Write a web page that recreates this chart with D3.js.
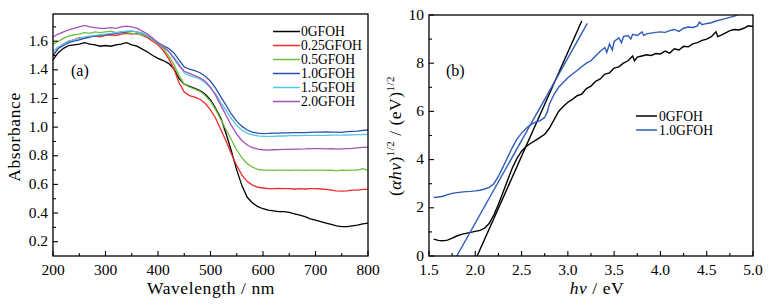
<!DOCTYPE html>
<html>
<head>
<meta charset="utf-8">
<script src="https://cdn.jsdelivr.net/npm/d3@7"></script>
<style>
  body { margin: 0; background: #fff; }
  svg { display: block; font-family: "Liberation Serif", "DejaVu Serif", serif; }
</style>
</head>
<body>
<div id="chart"></div>
<script>
// ---- panel (a): absorbance spectra ----
const wavelength = d3.range(200, 801, 10);

const abs0 = [1.47, 1.52, 1.55, 1.57, 1.575, 1.58, 1.59, 1.58, 1.575, 1.565, 1.57, 1.565, 1.575, 1.58, 1.59, 1.575, 1.565, 1.545, 1.525, 1.50,
  1.48, 1.465, 1.445, 1.41, 1.34, 1.30, 1.285, 1.27, 1.255, 1.23, 1.19, 1.13, 1.06, 0.95, 0.83, 0.70, 0.59, 0.51, 0.47, 0.445,
  0.43, 0.42, 0.415, 0.41, 0.41, 0.405, 0.395, 0.385, 0.375, 0.36, 0.35, 0.34, 0.33, 0.32, 0.31, 0.305, 0.305, 0.31, 0.315, 0.325, 0.33];
const abs025 = [1.50, 1.55, 1.58, 1.60, 1.61, 1.625, 1.62, 1.63, 1.635, 1.63, 1.64, 1.645, 1.64, 1.65, 1.655, 1.65, 1.655, 1.64, 1.625, 1.60,
  1.575, 1.535, 1.48, 1.41, 1.31, 1.245, 1.22, 1.21, 1.195, 1.165, 1.12, 1.06, 0.98, 0.90, 0.81, 0.73, 0.665, 0.62, 0.595, 0.58,
  0.575, 0.57, 0.57, 0.572, 0.57, 0.57, 0.568, 0.57, 0.568, 0.57, 0.57, 0.568, 0.565, 0.56, 0.555, 0.553, 0.555, 0.56, 0.56, 0.565, 0.565];
const abs05 = [1.58, 1.60, 1.62, 1.635, 1.645, 1.65, 1.66, 1.655, 1.665, 1.66, 1.665, 1.67, 1.66, 1.665, 1.66, 1.655, 1.65, 1.645, 1.635, 1.61,
  1.585, 1.55, 1.50, 1.44, 1.36, 1.30, 1.28, 1.265, 1.25, 1.22, 1.18, 1.12, 1.05, 0.98, 0.91, 0.84, 0.785, 0.745, 0.72, 0.705,
  0.70, 0.70, 0.698, 0.70, 0.70, 0.698, 0.70, 0.70, 0.698, 0.70, 0.70, 0.70, 0.698, 0.70, 0.695, 0.70, 0.698, 0.70, 0.70, 0.71, 0.70];
const abs10 = [1.50, 1.55, 1.57, 1.59, 1.60, 1.61, 1.62, 1.63, 1.635, 1.64, 1.645, 1.65, 1.655, 1.66, 1.665, 1.67, 1.665, 1.655, 1.64, 1.615,
  1.59, 1.57, 1.55, 1.52, 1.47, 1.42, 1.405, 1.395, 1.38, 1.355, 1.32, 1.27, 1.21, 1.15, 1.09, 1.04, 1.005, 0.98, 0.965, 0.958,
  0.955, 0.956, 0.958, 0.958, 0.96, 0.96, 0.962, 0.962, 0.962, 0.964, 0.965, 0.965, 0.966, 0.965, 0.965, 0.963, 0.968, 0.97, 0.972, 0.978, 0.98];
const abs15 = [1.53, 1.56, 1.58, 1.60, 1.61, 1.62, 1.63, 1.635, 1.64, 1.645, 1.65, 1.655, 1.66, 1.665, 1.67, 1.67, 1.665, 1.655, 1.64, 1.615,
  1.59, 1.565, 1.53, 1.49, 1.44, 1.38, 1.36, 1.35, 1.335, 1.31, 1.275, 1.23, 1.17, 1.115, 1.06, 1.01, 0.978, 0.958, 0.946, 0.939,
  0.935, 0.935, 0.936, 0.938, 0.938, 0.94, 0.94, 0.94, 0.942, 0.942, 0.942, 0.943, 0.943, 0.944, 0.944, 0.944, 0.945, 0.946, 0.947, 0.948, 0.95];
const abs20 = [1.63, 1.65, 1.665, 1.68, 1.69, 1.70, 1.71, 1.70, 1.695, 1.69, 1.69, 1.695, 1.69, 1.70, 1.705, 1.70, 1.69, 1.67, 1.65, 1.62,
  1.59, 1.56, 1.53, 1.48, 1.43, 1.39, 1.375, 1.36, 1.345, 1.32, 1.28, 1.22, 1.15, 1.08, 1.01, 0.95, 0.905, 0.875, 0.857, 0.847,
  0.842, 0.84, 0.842, 0.843, 0.845, 0.845, 0.846, 0.847, 0.848, 0.85, 0.85, 0.85, 0.848, 0.85, 0.846, 0.848, 0.85, 0.852, 0.855, 0.858, 0.86];

const seriesA = [
  { name: "0GFOH", values: abs0, color: "#000000" },
  { name: "0.25GFOH", values: abs025, color: "#f22a2a" },
  { name: "0.5GFOH", values: abs05, color: "#6cc040" },
  { name: "1.0GFOH", values: abs10, color: "#2a4fb0" },
  { name: "1.5GFOH", values: abs15, color: "#55c6e6" },
  { name: "2.0GFOH", values: abs20, color: "#a352b4" }
];

// ---- panel (b): Tauc plot ----
const energy0 = [1.55, 1.60, 1.65, 1.70, 1.75, 1.80, 1.85, 1.90, 1.95, 2.00, 2.05, 2.10, 2.15, 2.20, 2.25, 2.30, 2.35, 2.40, 2.45, 2.50,
  2.55, 2.60, 2.65, 2.70, 2.75, 2.80, 2.85, 2.90, 2.95, 3.00, 3.05, 3.10, 3.15, 3.20, 3.25, 3.30, 3.35, 3.40, 3.45, 3.50,
  3.55, 3.60, 3.65, 3.70, 3.72, 3.75, 3.80, 3.85, 3.90, 3.95, 4.00, 4.05, 4.10, 4.15, 4.20, 4.25, 4.30, 4.35, 4.40, 4.45,
  4.50, 4.55, 4.60, 4.62, 4.65, 4.70, 4.75, 4.80, 4.85, 4.90, 4.95, 5.00];
const tauc0 = [0.70, 0.65, 0.63, 0.66, 0.74, 0.83, 0.90, 0.94, 0.98, 1.02, 1.06, 1.15, 1.35, 1.70, 2.15, 2.65, 3.15, 3.65, 4.05, 4.35,
  4.55, 4.68, 4.80, 4.92, 5.05, 5.30, 5.65, 6.00, 6.20, 6.38, 6.50, 6.65, 6.72, 6.95, 7.05, 7.25, 7.35, 7.55, 7.60, 7.80,
  7.85, 8.00, 8.10, 8.30, 8.10, 8.25, 8.30, 8.35, 8.32, 8.40, 8.38, 8.50, 8.42, 8.60, 8.55, 8.70, 8.68, 8.80, 8.85, 8.95,
  9.00, 9.10, 9.30, 9.10, 9.15, 9.25, 9.35, 9.40, 9.38, 9.45, 9.55, 9.52];

const energy10 = [1.55, 1.60, 1.65, 1.70, 1.75, 1.80, 1.85, 1.90, 1.95, 2.00, 2.05, 2.10, 2.15, 2.20, 2.25, 2.30, 2.35, 2.40, 2.45, 2.50,
  2.55, 2.60, 2.65, 2.70, 2.75, 2.78, 2.80, 2.85, 2.90, 2.95, 3.00, 3.05, 3.10, 3.15, 3.20, 3.25, 3.30, 3.35, 3.40, 3.42,
  3.45, 3.48, 3.50, 3.55, 3.58, 3.60, 3.65, 3.68, 3.70, 3.75, 3.80, 3.82, 3.85, 3.90, 3.95, 4.00, 4.05, 4.10, 4.15, 4.20,
  4.25, 4.30, 4.35, 4.40, 4.42, 4.45, 4.50, 4.55, 4.60, 4.65, 4.70, 4.75, 4.80, 4.83];
const tauc10 = [2.43, 2.45, 2.48, 2.55, 2.60, 2.63, 2.65, 2.67, 2.68, 2.70, 2.73, 2.78, 2.85, 3.00, 3.30, 3.70, 4.10, 4.50, 4.85, 5.10,
  5.30, 5.45, 5.55, 5.62, 5.75, 6.00, 6.30, 6.70, 7.00, 7.20, 7.40, 7.55, 7.70, 7.85, 8.00, 8.10, 8.30, 8.50, 8.65, 8.45,
  8.80, 8.55, 8.90, 9.05, 8.85, 9.10, 9.15, 9.00, 9.20, 9.15, 9.30, 9.15, 9.22, 9.25, 9.28, 9.30, 9.28, 9.35, 9.40, 9.32,
  9.45, 9.50, 9.48, 9.55, 9.70, 9.60, 9.65, 9.68, 9.75, 9.80, 9.85, 9.90, 9.95, 10.0];

// tangent (fit) lines, two end points each
const fit0 = [[2.02, 0], [3.15, 9.75]];
const fit10 = [[1.80, 0], [3.21, 9.65]];

const seriesB = [
  { name: "0GFOH", x: energy0, values: tauc0, color: "#000000", fit: fit0 },
  { name: "1.0GFOH", x: energy10, values: tauc10, color: "#2f5cb8", fit: fit10 }
];

const width = 778, height = 306;
const svg = d3.select("#chart").append("svg")
  .attr("width", width)
  .attr("height", height);

// draws box frame, inward ticks (major + minor) and labels
function drawFrame(g, x, y, xMajor, xMinor, yMajor, yMinor, xFmt, yFmt) {
  const [x0, x1] = x.range();
  const [y0, y1] = y.range();
  g.append("rect")
    .attr("x", x0).attr("y", y1)
    .attr("width", x1 - x0).attr("height", y0 - y1)
    .attr("fill", "none").attr("stroke", "#000").attr("stroke-width", 1.3);

  g.selectAll(".xminor").data(xMinor).join("line")
    .attr("x1", d => x(d)).attr("x2", d => x(d))
    .attr("y1", y0).attr("y2", y0 - 3)
    .attr("stroke", "#000").attr("stroke-width", 1.1);
  g.selectAll(".xmajor").data(xMajor).join("line")
    .attr("x1", d => x(d)).attr("x2", d => x(d))
    .attr("y1", y0).attr("y2", y0 - 5)
    .attr("stroke", "#000").attr("stroke-width", 1.1);
  g.selectAll(".yminor").data(yMinor).join("line")
    .attr("x1", x0).attr("x2", x0 + 3)
    .attr("y1", d => y(d)).attr("y2", d => y(d))
    .attr("stroke", "#000").attr("stroke-width", 1.1);
  g.selectAll(".ymajor").data(yMajor).join("line")
    .attr("x1", x0).attr("x2", x0 + 5)
    .attr("y1", d => y(d)).attr("y2", d => y(d))
    .attr("stroke", "#000").attr("stroke-width", 1.1);

  g.selectAll(".xlab").data(xMajor).join("text")
    .attr("x", d => x(d)).attr("y", y0 + 19)
    .attr("text-anchor", "middle")
    .style("font-size", "15.5px")
    .text(xFmt);
  g.selectAll(".ylab").data(yMajor).join("text")
    .attr("x", x0 - 5).attr("y", d => y(d) + 4.5)
    .attr("text-anchor", "end")
    .style("font-size", "15.5px")
    .text(yFmt);
}

// ---- draw panel (a) ----
const xA = d3.scaleLinear().domain([200, 800]).range([53, 368]);
const yA = d3.scaleLinear().domain([0.1, 1.79]).range([256, 14]);
const gA = svg.append("g");

gA.append("clipPath").attr("id", "clipA").append("rect")
  .attr("x", 53).attr("y", 14).attr("width", 315).attr("height", 242);

const lineA = d3.line()
  .x((d, i) => xA(wavelength[i]))
  .y(d => yA(d));

gA.append("g").attr("clip-path", "url(#clipA)")
  .selectAll("path").data(seriesA).join("path")
  .attr("d", d => lineA(d.values))
  .attr("fill", "none")
  .attr("stroke", d => d.color)
  .attr("stroke-width", 1.3);

drawFrame(gA, xA, yA,
  d3.range(200, 801, 100), d3.range(250, 800, 100),
  d3.range(0.2, 1.61, 0.2), d3.range(0.3, 1.71, 0.2),
  d => d, d => d3.format(".1f")(d));

// legend (a)
const legA = gA.append("g");
seriesA.forEach((s, i) => {
  const ly = 31.5 + i * 14;
  legA.append("line")
    .attr("x1", 273).attr("x2", 300).attr("y1", ly).attr("y2", ly)
    .attr("stroke", s.color).attr("stroke-width", 1.5);
  legA.append("text")
    .attr("x", 301).attr("y", ly + 4.8)
    .style("font-size", "13.6px")
    .text(s.name);
});

gA.append("text").attr("x", 71).attr("y", 76).style("font-size", "16px").text("(a)");
gA.append("text")
  .attr("transform", "translate(20,137) rotate(-90)")
  .attr("text-anchor", "middle")
  .style("font-size", "17.5px")
  .style("letter-spacing", "0.6px")
  .text("Absorbance");
gA.append("text")
  .attr("x", 211).attr("y", 294)
  .attr("text-anchor", "middle")
  .style("font-size", "17.5px")
  .style("letter-spacing", "0.6px")
  .text("Wavelength / nm");

// ---- draw panel (b) ----
const xB = d3.scaleLinear().domain([1.5, 5.0]).range([429, 753]);
const yB = d3.scaleLinear().domain([0, 10]).range([256, 15]);
const gB = svg.append("g");

gB.append("clipPath").attr("id", "clipB").append("rect")
  .attr("x", 429).attr("y", 15).attr("width", 324).attr("height", 241);

const plotB = gB.append("g").attr("clip-path", "url(#clipB)");
seriesB.forEach(s => {
  const line = d3.line().x((d, i) => xB(s.x[i])).y(d => yB(d));
  plotB.append("path")
    .attr("d", line(s.values))
    .attr("fill", "none")
    .attr("stroke", s.color)
    .attr("stroke-width", 1.4);
  plotB.append("line")
    .attr("x1", xB(s.fit[0][0])).attr("y1", yB(s.fit[0][1]))
    .attr("x2", xB(s.fit[1][0])).attr("y2", yB(s.fit[1][1]))
    .attr("stroke", s.color)
    .attr("stroke-width", 1.4);
});

drawFrame(gB, xB, yB,
  d3.range(1.5, 5.01, 0.5), d3.range(1.75, 5.0, 0.5),
  d3.range(0, 10.1, 2), d3.range(1, 10, 2),
  d => d3.format(".1f")(d), d => d);

const legB = gB.append("g");
seriesB.forEach((s, i) => {
  const ly = 116 + i * 14;
  legB.append("line")
    .attr("x1", 636).attr("x2", 657).attr("y1", ly).attr("y2", ly)
    .attr("stroke", s.color).attr("stroke-width", 1.5);
  legB.append("text")
    .attr("x", 659).attr("y", ly + 4.8)
    .style("font-size", "13.6px")
    .text(s.name);
});

gB.append("text").attr("x", 446).attr("y", 76).style("font-size", "16px").text("(b)");

const yLabB = gB.append("text")
  .attr("transform", "translate(401,136) rotate(-90)")
  .attr("text-anchor", "middle")
  .style("font-size", "17.5px")
  .style("letter-spacing", "0.5px");
yLabB.append("tspan").text("(");
yLabB.append("tspan").style("font-style", "italic").text("αhν");
yLabB.append("tspan").text(")");
yLabB.append("tspan").attr("dy", -7).style("font-size", "11px").text("1/2");
yLabB.append("tspan").attr("dy", 7).text(" / (eV)");
yLabB.append("tspan").attr("dy", -7).style("font-size", "11px").text("1/2");

const xLabB = gB.append("text")
  .attr("x", 597).attr("y", 294)
  .attr("text-anchor", "middle")
  .style("font-size", "17.5px")
  .style("letter-spacing", "0.6px");
xLabB.append("tspan").style("font-style", "italic").text("hν");
xLabB.append("tspan").text(" / eV");
</script>
</body>
</html>
